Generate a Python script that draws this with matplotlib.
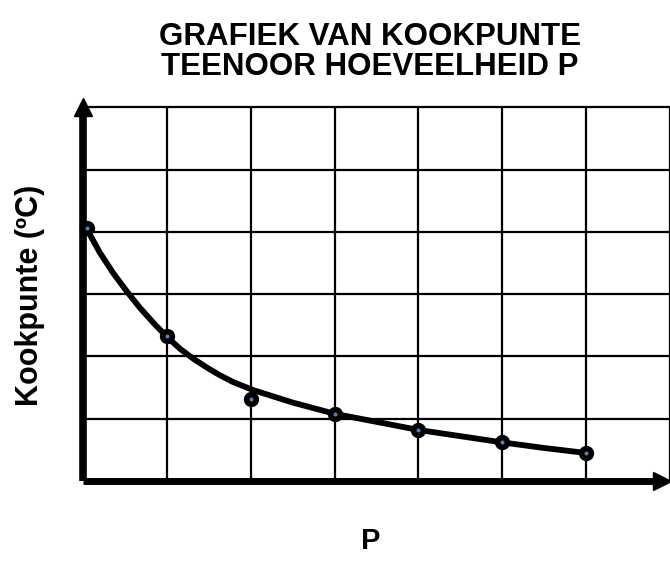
import matplotlib
matplotlib.use("Agg")
import matplotlib.pyplot as plt

# measured points (P, boiling point in grid units)
p_vals = [0.05, 1, 2, 3, 4, 5, 6]
kookpunte = [4.06, 2.33, 1.32, 1.08, 0.82, 0.62, 0.45]

# hand-drawn trend curve
curve_x = [0.04, 0.20, 0.36, 0.52, 0.68, 0.84, 0.99, 1.16, 1.32, 1.48,
           1.63, 1.79, 2.03, 2.5, 3.0, 3.5, 4.0, 4.5, 5.0, 5.5, 6.0]
curve_y = [4.06, 3.67, 3.34, 3.05, 2.78, 2.54, 2.33, 2.12, 1.96, 1.82,
           1.70, 1.59, 1.46, 1.26, 1.08, 0.95, 0.82, 0.72, 0.62, 0.53, 0.45]

grid_x = [0, 1, 2, 3, 4, 5, 6, 7]
grid_y = [0, 1, 2, 3, 4, 5, 6]

plt.rcParams["font.family"] = ["Liberation Sans", "DejaVu Sans"]

W, H = 670, 561
fig = plt.figure(figsize=(W / 100, H / 100), dpi=100)
ax = fig.add_axes([83 / W, 80 / H, (670 - 83) / W, (481 - 95) / H])
ax.set_xlim(0, 7)
ax.set_ylim(0, 6.2)
ax.axis("off")

# grid
ax.vlines(grid_x[1:], 0, 6, color="black", lw=1.6, clip_on=False)
ax.hlines(grid_y[1:], 0, 7, color="black", lw=1.6, clip_on=False)

# axes with arrows
ax.plot([0, 0], [0, 6.0], color="black", lw=5.5, solid_capstyle="butt",
        clip_on=False)
ax.plot([0, 6.9], [0, 0], color="black", lw=5.0, solid_capstyle="butt",
        clip_on=False)
ax.plot([0], [6.0], marker="^", ms=13, color="black", clip_on=False)
ax.plot([6.9], [0], marker=">", ms=13, color="black", clip_on=False)

# curve and points
ax.plot(curve_x, curve_y, color="black", lw=4.2, solid_capstyle="round",
        solid_joinstyle="round", clip_on=False, zorder=4)
ax.plot(p_vals, kookpunte, linestyle="none", marker="o", ms=7, mew=4,
        mec="black", mfc="#4F81BD", clip_on=False, zorder=5)

fig.text(370 / W, 1 - 37 / H, "GRAFIEK VAN KOOKPUNTE", ha="center",
         va="center", fontsize=22.5, fontweight="bold")
fig.text(370 / W, 1 - 67 / H, "TEENOOR HOEVEELHEID P", ha="center",
         va="center", fontsize=22.5, fontweight="bold")
fig.text(30 / W, 1 - 295 / H, "Kookpunte (ºC)", ha="center", va="center",
         rotation=90, fontsize=22, fontweight="bold")
fig.text(371 / W, 1 - 541 / H, "P", ha="center", va="center",
         fontsize=21, fontweight="bold")

fig.savefig("out.png", dpi=100)
